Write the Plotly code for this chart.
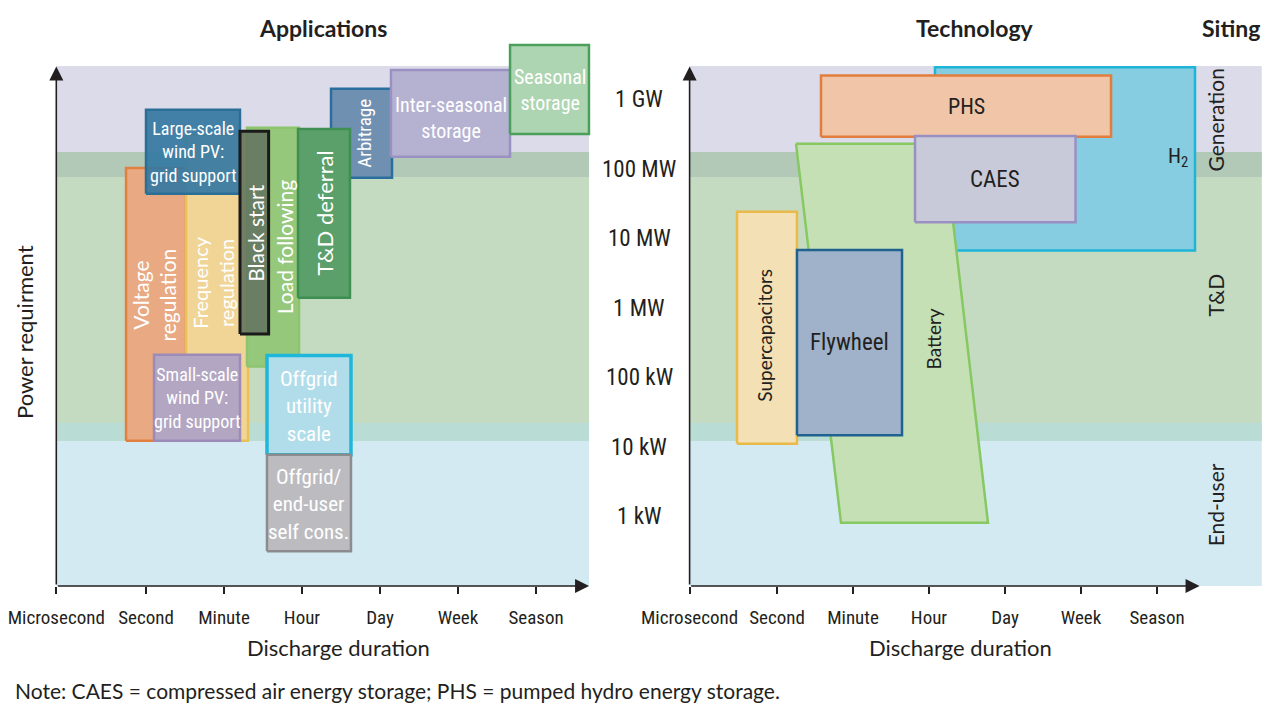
import plotly.graph_objects as go

# ---------------- data ----------------
duration_labels = ["Microsecond", "Second", "Minute", "Hour", "Day", "Week", "Season"]
duration_pos = [-0.15, 1, 2, 3, 4, 5, 6]

power_labels = ["1 kW", "10 kW", "100 kW", "1 MW", "10 MW", "100 MW", "1 GW"]
power_pos = [3, 4, 5, 6, 7, 8, 9]          # log10(W)

siting_names = ["End-user", "T&D", "Generation"]
siting_low = [2.0, 4.09, 7.89]
siting_high = [4.35, 8.25, 9.49]

app_names = ["Voltage<br>regulation", "Frequency<br>regulation",
             "Small-scale<br>wind PV:<br>grid support", "Large-scale<br>wind PV:<br>grid support",
             "Load following", "Black start", "Arbitrage", "T&D deferral",
             "Inter-seasonal<br>storage", "Seasonal<br>storage",
             "Offgrid<br>utility<br>scale", "Offgrid/<br>end-user<br>self cons."]
app_x0 = [0.744, 1.513, 1.103, 1.000, 2.295, 2.205, 3.372, 2.949, 4.141, 5.667, 2.551, 2.551]
app_x1 = [1.513, 2.308, 2.205, 2.205, 2.962, 2.572, 4.154, 3.615, 5.667, 6.679, 3.628, 3.628]
app_y0 = [4.09, 4.09, 4.09, 7.65, 5.16, 5.63, 7.88, 6.15, 8.18, 8.51, 3.89, 2.50]
app_y1 = [8.02, 8.50, 5.33, 8.86, 8.60, 8.55, 9.16, 8.58, 9.43, 9.79, 5.32, 3.89]

tech_names = ["H<sub>2</sub>", "PHS", "CAES", "Supercapacitors", "Flywheel"]
tech_x0 = [3.079, 1.579, 2.816, 0.474, 1.263]
tech_x1 = [6.500, 5.395, 4.928, 1.263, 2.645]
tech_y0 = [6.83, 8.47, 7.24, 4.05, 4.17]
tech_y1 = [9.47, 9.35, 8.48, 7.39, 6.84]

battery_name = "Battery"
battery_x = [1.250, 3.197, 3.776, 1.842, 1.250]
battery_y = [8.37, 8.37, 2.91, 2.91, 8.37]

# ---------------- style ----------------
FONT_REG = "Lato, 'Open Sans', sans-serif"
FONT_COND = "'Liberation Sans Narrow', 'Roboto Condensed', Roboto, sans-serif"
INK = "#231f20"
W, H = 1280, 712

# x pixel mapping per panel
L_SEC, L_UNIT = 146, 78
R_SEC, R_UNIT = 777, 76
L_RANGE = [-0.15, 6.75]
R_RANGE = [-0.15, 7.38]
Y_RANGE = [2.0, 9.863]
Y_BOT_PX, Y_TOP_PX = 586, 40

def dom(sec, unit, rng):
    return [(sec + (rng[0] - 1) * unit) / W, (sec + (rng[1] - 1) * unit) / W]

siting_fill = ["#d4eaf3", "#c4dbc1", "#dcdbe9"]
overlap_fill = ["#b9dcd5", "#b2c9b8"]
band_x_end = {"x": 6.68, "x2": 7.38}

app_fill = ["#e8a983", "#f0d597", "#b2a6c2", "rgba(52,120,162,0.92)", "#96c87c",
            "rgba(100,118,95,0.9)", "#7090b1", "#5ba06a", "#b5b2d1", "#aed5b2",
            "#b1ddea", "#bcbcc0"]
app_line = ["#e2813f", "#eac159", "#9c8ab8", "#2b6f97", "#8cc56e", "#1a1a1a",
            "#2a6e9e", "#3f8e52", "#9b90c2", "#4aa05a", "#1fb7d9", "#8c8c8e"]
app_lw = [2.5, 2.5, 2.5, 2.5, 2.5, 3, 2.5, 2.5, 2.5, 2.5, 3.5, 2.5]
app_font = ["reg", "reg", "cond", "cond", "reg", "reg", "cond", "reg", "cond", "cond", "cond", "cond"]
app_fsize = [21, 20, 18, 18, 21, 21, 19, 22, 20, 20, 21, 21]
app_angle = [-90, -90, 0, 0, -90, -90, -90, -90, 0, 0, 0, 0]
app_shift = [(-2, 9), (-4, 5), (0, 0), (0, 0), (11, 0), (1, 0), (3, 0), (0, 0), (0, -5), (1, 0), (0, -1), (0, -1)]

tech_fill = ["#86cde2", "#f1c5a7", "#c9cad9", "#f3e0b4", "#9fb2c9"]
tech_line = ["#1fb5d7", "#e27d3d", "#9a8fc2", "#e9ba4a", "#1f6290"]
tech_angle = [0, 0, 0, -90, 0]
tech_font = ["cond", "cond", "cond", "reg", "cond"]
tech_fsize = [21, 22, 23, 19, 23]
tech_shift = [(113, 1), (0, 0), (0, 0), (-2, -8), (0, 0)]
battery_fill, battery_line = "#c6e0b6", "#86c862"

fam = {"reg": FONT_REG, "cond": FONT_COND}

fig = go.Figure()
shapes, annos = [], []

# background siting bands (both panels)
for xa, ya in (("x", "y"), ("x2", "y2")):
    xend = band_x_end[xa]
    for i in range(len(siting_names)):
        shapes.append(dict(type="rect", xref=xa, yref=ya, x0=-0.15, x1=xend,
                           y0=siting_low[i], y1=siting_high[i], fillcolor=siting_fill[i],
                           line=dict(width=0), layer="below"))
    for i in range(len(siting_names) - 1):
        shapes.append(dict(type="rect", xref=xa, yref=ya, x0=-0.15, x1=xend,
                           y0=siting_low[i + 1], y1=siting_high[i], fillcolor=overlap_fill[i],
                           line=dict(width=0), layer="below"))

def rect(x0, x1, y0, y1):
    return [x0, x1, x1, x0, x0], [y0, y0, y1, y1, y0]

# applications
for i, name in enumerate(app_names):
    xs, ys = rect(app_x0[i], app_x1[i], app_y0[i], app_y1[i])
    fig.add_trace(go.Scatter(x=xs, y=ys, mode="lines", fill="toself",
                             fillcolor=app_fill[i], line=dict(color=app_line[i], width=app_lw[i]),
                             xaxis="x", yaxis="y", hoverinfo="skip", showlegend=False))
    annos.append(dict(x=(app_x0[i] + app_x1[i]) / 2, y=(app_y0[i] + app_y1[i]) / 2,
                      xref="x", yref="y", text=name, showarrow=False, textangle=app_angle[i],
                      xshift=app_shift[i][0], yshift=app_shift[i][1],
                      font=dict(family=fam[app_font[i]], size=app_fsize[i], color="white")))

# technologies: H2 first, then battery, then rest
def add_tech(i):
    xs, ys = rect(tech_x0[i], tech_x1[i], tech_y0[i], tech_y1[i])
    fig.add_trace(go.Scatter(x=xs, y=ys, mode="lines", fill="toself",
                             fillcolor=tech_fill[i], line=dict(color=tech_line[i], width=2.5),
                             xaxis="x2", yaxis="y2", hoverinfo="skip", showlegend=False))
    annos.append(dict(x=(tech_x0[i] + tech_x1[i]) / 2, y=(tech_y0[i] + tech_y1[i]) / 2,
                      xref="x2", yref="y2", text=tech_names[i], showarrow=False,
                      textangle=tech_angle[i], xshift=tech_shift[i][0], yshift=tech_shift[i][1],
                      font=dict(family=fam[tech_font[i]], size=tech_fsize[i], color=INK)))

add_tech(0)
fig.add_trace(go.Scatter(x=battery_x, y=battery_y, mode="lines", fill="toself",
                         fillcolor=battery_fill, line=dict(color=battery_line, width=2.5),
                         xaxis="x2", yaxis="y2", hoverinfo="skip", showlegend=False))
annos.append(dict(x=sum(battery_x[:4]) / 4, y=(max(battery_y) + min(battery_y)) / 2,
                  xref="x2", yref="y2", text=battery_name, showarrow=False, textangle=-90,
                  xshift=41, yshift=-6, font=dict(family=FONT_REG, size=19, color=INK)))
for i in range(1, len(tech_names)):
    add_tech(i)

# axis arrows
arrow = dict(showarrow=True, arrowhead=2, arrowsize=1.75, arrowwidth=1.6,
             arrowcolor=INK, text="", standoff=0)
for xa, ya, xend in (("x", "y", 6.68), ("x2", "y2", 6.56)):
    annos.append(dict(arrow, x=-0.15, y=9.48, ax=-0.15, ay=Y_RANGE[0], xref=xa, yref=ya,
                      axref=xa, ayref=ya))
    annos.append(dict(arrow, x=xend, y=Y_RANGE[0], ax=-0.15, ay=Y_RANGE[0], xref=xa, yref=ya,
                      axref=xa, ayref=ya))

# power tick labels between panels
for lab, pos in zip(power_labels, power_pos):
    annos.append(dict(x=639 / W, y=pos, xref="paper", yref="y2", text=lab, showarrow=False,
                      xanchor="center", yanchor="middle",
                      font=dict(family=FONT_COND, size=23, color=INK)))

# siting labels
siting_label_y = [3.17, 6.19, 8.71]
for name, yy in zip(siting_names, siting_label_y):
    annos.append(dict(x=1230 / W, y=yy, xref="paper", yref="y2", text=name, showarrow=False,
                      textangle=-90, font=dict(family=FONT_REG, size=21, color=INK)))

def pa(x, y, text, size, angle=0, xanchor="center", family=FONT_REG):
    annos.append(dict(x=x / W, y=1 - y / H, xref="paper", yref="paper", text=text,
                      showarrow=False, textangle=angle, xanchor=xanchor, yanchor="middle",
                      font=dict(family=family, size=size, color=INK)))

pa(323, 28, "<b>Applications</b>", 23)
pa(975, 28, "<b>Technology</b>", 23)
pa(1231, 28, "<b>Siting</b>", 23)
pa(25, 332, "Power requirment", 22, angle=-90)
pa(338, 647, "Discharge duration", 22)
pa(960, 647, "Discharge duration", 22)
pa(13, 690, "Note: CAES = compressed air energy storage; PHS = pumped hydro energy storage.", 21,
   xanchor="left")

y_dom = [1 - Y_BOT_PX / H, 1 - Y_TOP_PX / H]
xcommon = dict(tickmode="array", tickvals=duration_pos, ticktext=duration_labels,
               ticks="outside", ticklen=7, tickwidth=1.5, tickcolor=INK,
               tickfont=dict(family=FONT_COND, size=19, color=INK), ticklabelstandoff=7,
               showgrid=False, zeroline=False, showline=False, fixedrange=True,
               automargin=False)
ycommon = dict(range=Y_RANGE, showgrid=False, zeroline=False, showline=False,
               showticklabels=False, ticks="", fixedrange=True, automargin=False)

fig.update_layout(
    template="none",
    width=W, height=H, margin=dict(l=0, r=0, t=0, b=0, pad=0, autoexpand=False),
    paper_bgcolor="white", plot_bgcolor="rgba(0,0,0,0)", showlegend=False,
    xaxis=dict(xcommon, domain=dom(L_SEC, L_UNIT, L_RANGE), range=L_RANGE, anchor="y"),
    xaxis2=dict(xcommon, domain=dom(R_SEC, R_UNIT, R_RANGE), range=R_RANGE, anchor="y2"),
    yaxis=dict(ycommon, domain=y_dom, anchor="x"),
    yaxis2=dict(ycommon, domain=y_dom, anchor="x2"),
    shapes=shapes, annotations=annos,
)

fig.write_html("out.html", config={"displayModeBar": False},
               post_script="document.body.style.margin='0px';")
